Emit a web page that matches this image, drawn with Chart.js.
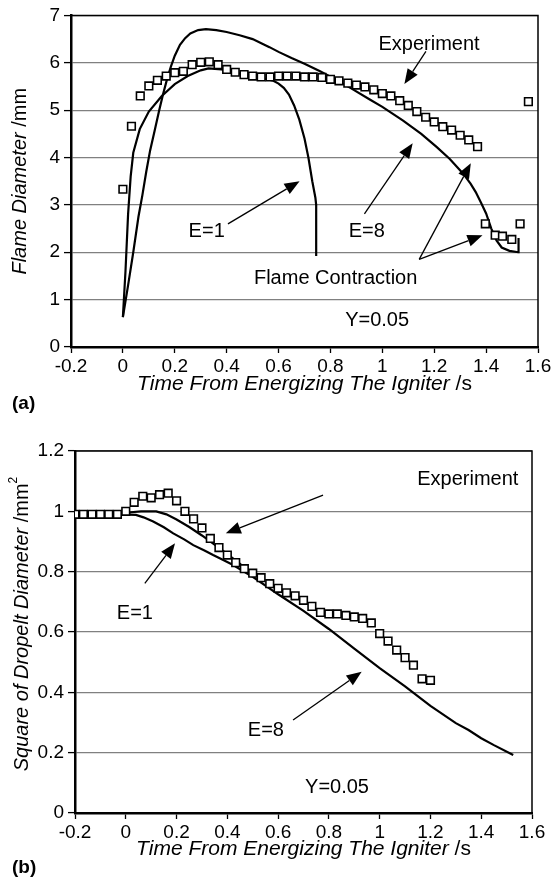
<!DOCTYPE html>
<html>
<head>
<meta charset="utf-8">
<script src="https://cdn.jsdelivr.net/npm/chart.js@4.4.1/dist/chart.umd.min.js"></script>
<style>
  body { margin: 0; background: #fff; }
  .box { position: absolute; left: 0; width: 555px; }
</style>
</head>
<body>
<div class="box" style="top:0;height:420px"><canvas id="chartA" width="555" height="420"></canvas></div>
<div class="box" style="top:420px;height:463px"><canvas id="chartB" width="555" height="463"></canvas></div>

<script>
// ---- (a) flame diameter ----
var tExpA = [0, 0.033, 0.067, 0.1, 0.133, 0.167, 0.2, 0.233, 0.267, 0.3, 0.333, 0.367, 0.4, 0.433, 0.467, 0.5,
  0.533, 0.567, 0.6, 0.633, 0.667, 0.7, 0.733, 0.767, 0.8, 0.833, 0.867, 0.9, 0.933, 0.967, 1.0, 1.033, 1.067,
  1.1, 1.133, 1.167, 1.2, 1.233, 1.267, 1.3, 1.333, 1.367, 1.397, 1.435, 1.463, 1.499, 1.531, 1.563];
var dExpA = [3.33, 4.66, 5.30, 5.51, 5.63, 5.72, 5.79, 5.82, 5.96, 6.01, 6.02, 5.96, 5.86, 5.80, 5.75, 5.72,
  5.70, 5.70, 5.72, 5.72, 5.72, 5.70, 5.70, 5.69, 5.65, 5.62, 5.57, 5.53, 5.49, 5.43, 5.35, 5.30, 5.20,
  5.10, 4.97, 4.85, 4.75, 4.65, 4.58, 4.47, 4.37, 4.23, 2.60, 2.36, 2.34, 2.27, 2.60, 5.18];

var tE1A = [0, 0.01, 0.02, 0.03, 0.04, 0.065, 0.1, 0.15, 0.2, 0.25, 0.3, 0.33, 0.38, 0.42, 0.46, 0.5, 0.55,
  0.58, 0.6, 0.62, 0.64, 0.66, 0.68, 0.7, 0.715, 0.73, 0.742, 0.745, 0.745];
var dE1A = [0.63, 1.6, 2.8, 3.6, 4.1, 4.6, 4.97, 5.3, 5.55, 5.72, 5.84, 5.88, 5.86, 5.81, 5.76, 5.71, 5.66,
  5.62, 5.56, 5.47, 5.33, 5.1, 4.8, 4.4, 4.0, 3.5, 3.15, 3.0, 1.92];

var tE8A = [0, 0.02, 0.04, 0.06, 0.075, 0.09, 0.105, 0.123, 0.14, 0.155, 0.17, 0.185, 0.2, 0.22, 0.24, 0.26,
  0.29, 0.32, 0.36, 0.4, 0.45, 0.5, 0.565, 0.6, 0.65, 0.7, 0.76, 0.82, 0.88, 0.95, 1.0, 1.08, 1.15, 1.21,
  1.26, 1.31, 1.34, 1.36, 1.38, 1.4, 1.42, 1.44, 1.46, 1.49, 1.524, 1.525];
var dE8A = [0.63, 1.3, 2.0, 2.75, 3.2, 3.7, 4.15, 4.58, 5.0, 5.34, 5.65, 5.92, 6.15, 6.38, 6.52, 6.62,
  6.69, 6.71, 6.69, 6.65, 6.58, 6.5, 6.33, 6.23, 6.1, 5.98, 5.82, 5.65, 5.46, 5.23, 5.07, 4.78, 4.5, 4.22,
  3.97, 3.67, 3.45, 3.27, 3.05, 2.82, 2.5, 2.25, 2.1, 2.03, 2.0, 2.3];

// ---- (b) square of droplet diameter ----
var tExpB = [-0.2, -0.167, -0.133, -0.1, -0.067, -0.033, 0, 0.033, 0.067, 0.1, 0.133, 0.167, 0.2, 0.233, 0.267,
  0.3, 0.333, 0.367, 0.4, 0.433, 0.467, 0.5, 0.533, 0.567, 0.6, 0.633, 0.667, 0.7, 0.733, 0.767, 0.8, 0.833,
  0.867, 0.9, 0.933, 0.967, 1.0, 1.033, 1.067, 1.1, 1.133, 1.167, 1.2];
var dExpB = [0.99, 0.99, 0.99, 0.99, 0.99, 0.99, 1.0, 1.03, 1.05, 1.045, 1.055, 1.06, 1.035, 1.0, 0.975,
  0.945, 0.91, 0.88, 0.855, 0.83, 0.81, 0.795, 0.78, 0.76, 0.745, 0.73, 0.72, 0.705, 0.685, 0.665, 0.66, 0.66,
  0.655, 0.65, 0.645, 0.63, 0.595, 0.57, 0.54, 0.515, 0.49, 0.445, 0.44];

var tE1B = [-0.02, 0.04, 0.07, 0.108, 0.15, 0.187, 0.23, 0.266, 0.31, 0.344, 0.38, 0.423, 0.46, 0.5, 0.6, 0.7,
  0.8, 0.9, 1.0, 1.1, 1.2, 1.3, 1.35, 1.4, 1.45, 1.526];
var sE1B = [0.99, 0.988, 0.98, 0.966, 0.947, 0.927, 0.907, 0.888, 0.87, 0.855, 0.84, 0.822, 0.803, 0.783,
  0.725, 0.67, 0.61, 0.545, 0.48, 0.42, 0.355, 0.298, 0.275, 0.248, 0.225, 0.192];

var tE8B = [-0.02, 0.02, 0.06, 0.12, 0.16, 0.2, 0.25, 0.3, 0.35, 0.4, 0.45, 0.5];
var sE8B = [0.99, 0.997, 1.0, 1.0, 0.99, 0.973, 0.948, 0.92, 0.89, 0.858, 0.826, 0.786];

var xTicks = [-0.2, 0, 0.2, 0.4, 0.6, 0.8, 1, 1.2, 1.4, 1.6];
var yTicksA = [0, 1, 2, 3, 4, 5, 6, 7];
var yTicksB = [0, 0.2, 0.4, 0.6, 0.8, 1, 1.2];

var FONT = '"Liberation Sans", Arial, sans-serif';

function pts(xs, ys) {
  return xs.map(function (x, i) { return {x: x, y: ys[i]}; });
}

function fontOf(p, size) {
  return (p.b ? 'bold ' : '') + (p.i ? 'italic ' : '') + (p.sup ? Math.round(size * 0.62) : size) + 'px ' + FONT;
}

// draws text made of parts with different styles, centred on (cx, cy)
function richText(ctx, parts, cx, cy, size) {
  var total = 0;
  parts.forEach(function (p) { ctx.font = fontOf(p, size); p.w = ctx.measureText(p.t).width; total += p.w; });
  var x = cx - total / 2;
  ctx.textAlign = 'left';
  ctx.textBaseline = 'middle';
  parts.forEach(function (p) {
    ctx.font = fontOf(p, size);
    ctx.fillText(p.t, x, cy + (p.sup ? -size * 0.42 : 0));
    x += p.w;
  });
}

function arrow(ctx, x1, y1, x2, y2) {
  var ang = Math.atan2(y2 - y1, x2 - x1), len = 15, half = 6;
  var bx = x2 - len * Math.cos(ang), by = y2 - len * Math.sin(ang);
  ctx.lineWidth = 1.3;
  ctx.beginPath(); ctx.moveTo(x1, y1); ctx.lineTo(bx, by); ctx.stroke();
  ctx.beginPath();
  ctx.moveTo(x2, y2);
  ctx.lineTo(bx + half * Math.sin(ang), by - half * Math.cos(ang));
  ctx.lineTo(bx - half * Math.sin(ang), by + half * Math.cos(ang));
  ctx.closePath(); ctx.fill();
}

var decor = {
  id: 'decor',
  afterDraw: function (chart, args, o) {
    var ctx = chart.ctx, a = chart.chartArea, sx = chart.scales.x, sy = chart.scales.y;
    ctx.save();
    ctx.fillStyle = '#000';
    ctx.strokeStyle = '#000';
    // top and right frame
    ctx.lineWidth = 1.5;
    ctx.beginPath(); ctx.moveTo(a.left, a.top); ctx.lineTo(a.right, a.top); ctx.lineTo(a.right, a.bottom); ctx.stroke();

    // axis titles
    richText(ctx, o.xTitle, (a.left + a.right) / 2, a.bottom + o.xTitleGap, 21);
    ctx.save();
    ctx.translate(o.yTitleX, (a.top + a.bottom) / 2 + o.yTitleShift);
    ctx.rotate(-Math.PI / 2);
    richText(ctx, o.yTitle, 0, 0, 20);
    ctx.restore();

    // panel tag
    ctx.font = 'bold 19px ' + FONT;
    ctx.textAlign = 'left'; ctx.textBaseline = 'middle';
    ctx.fillText(o.tag, 12, a.bottom + o.tagGap);

    // notes and arrows, given in data units
    ctx.font = '20px ' + FONT;
    ctx.textAlign = 'center';
    o.notes.forEach(function (n) {
      ctx.fillText(n.text, sx.getPixelForValue(n.x), sy.getPixelForValue(n.y));
    });
    o.arrows.forEach(function (r) {
      arrow(ctx, sx.getPixelForValue(r[0]), sy.getPixelForValue(r[1]), sx.getPixelForValue(r[2]), sy.getPixelForValue(r[3]));
    });
    ctx.restore();
  }
};

function makeChart(id, cfg) {
  var ctx = document.getElementById(id).getContext('2d');
  return new Chart(ctx, {
    type: 'scatter',
    data: {
      datasets: [{
        data: cfg.exp,
        pointStyle: 'rect',
        pointRadius: 5.4,
        pointBorderWidth: 1.6,
        pointBackgroundColor: '#fff',
        pointBorderColor: '#000',
        showLine: false
      }].concat(cfg.curves.map(function (c) {
        return {data: c, showLine: true, borderColor: '#000', borderWidth: 2.2, pointRadius: 0, tension: 0};
      }))
    },
    options: {
      responsive: false,
      animation: false,
      devicePixelRatio: 1,
      layout: {padding: cfg.padding},
      plugins: {
        legend: {display: false},
        tooltip: {enabled: false},
        decor: cfg.decor
      },
      scales: {
        x: {
          type: 'linear', min: -0.2, max: 1.6,
          afterBuildTicks: function (s) { s.ticks = xTicks.map(function (v) { return {value: v}; }); },
          afterFit: function (s) { s.height = cfg.xHeight; },
          border: {color: '#000', width: 2.5},
          grid: {drawOnChartArea: false, tickLength: 6, tickColor: '#000', tickWidth: 1.3},
          ticks: {color: '#000', padding: 2, maxRotation: 0, font: {family: FONT, size: 19},
            callback: function (v) { return String(Math.round(v * 10) / 10); }}
        },
        y: {
          type: 'linear', min: 0, max: cfg.yMax,
          afterBuildTicks: function (s) { s.ticks = cfg.yTicks.map(function (v) { return {value: v}; }); },
          afterFit: function (s) { s.width = cfg.yWidth; },
          border: {color: '#000', width: 2.5},
          grid: {color: '#808080', lineWidth: 1.2, tickLength: 7, tickColor: '#000', tickWidth: 1.3},
          ticks: {color: '#000', padding: 4, font: {family: FONT, size: 19},
            callback: function (v) { return String(Math.round(v * 10) / 10); }}
        }
      }
    },
    plugins: [decor]
  });
}

makeChart('chartA', {
  exp: pts(tExpA, dExpA),
  curves: [pts(tE1A, dE1A), pts(tE8A, dE8A)],
  yMax: 7, yTicks: yTicksA,
  padding: {top: 10, right: 17, left: 0, bottom: 0},
  yWidth: 71, xHeight: 73,
  decor: {
    xTitle: [{t: 'Time From Energizing The Igniter', i: true}, {t: ' /s'}],
    yTitle: [{t: 'Flame Diameter', i: true}, {t: ' /mm'}],
    xTitleGap: 37, yTitleX: 20, yTitleShift: 0, tag: '(a)', tagGap: 57,
    notes: [
      {text: 'Experiment', x: 1.18, y: 6.38},
      {text: 'E=8', x: 0.94, y: 2.43},
      {text: 'E=1', x: 0.323, y: 2.43},
      {text: 'Flame Contraction', x: 0.82, y: 1.45},
      {text: 'Y=0.05', x: 0.98, y: 0.56}
    ],
    arrows: [
      [1.168, 6.24, 1.085, 5.55],
      [0.931, 2.81, 1.117, 4.30],
      [0.405, 2.60, 0.681, 3.50],
      [1.142, 1.85, 1.341, 3.88],
      [1.142, 1.85, 1.386, 2.36]
    ]
  }
});

makeChart('chartB', {
  exp: pts(tExpB, dExpB),
  curves: [pts(tE1B, sE1B), pts(tE8B, sE8B)],
  yMax: 1.2, yTicks: yTicksB,
  padding: {top: 31, right: 23, left: 0, bottom: 0},
  yWidth: 75, xHeight: 70,
  decor: {
    xTitle: [{t: 'Time From Energizing The Igniter', i: true}, {t: ' /s'}],
    yTitle: [{t: 'Square of Dropelt Diameter', i: true}, {t: ' /mm'}, {t: '2', sup: true}],
    xTitleGap: 36, yTitleX: 22, yTitleShift: -8, tag: '(b)', tagGap: 55,
    notes: [
      {text: 'Experiment', x: 1.347, y: 1.104},
      {text: 'E=1', x: 0.036, y: 0.663},
      {text: 'E=8', x: 0.552, y: 0.275},
      {text: 'Y=0.05', x: 0.832, y: 0.086}
    ],
    arrows: [
      [0.777, 1.054, 0.394, 0.927],
      [0.075, 0.761, 0.194, 0.894],
      [0.659, 0.308, 0.929, 0.468]
    ]
  }
});
</script>
</body>
</html>
